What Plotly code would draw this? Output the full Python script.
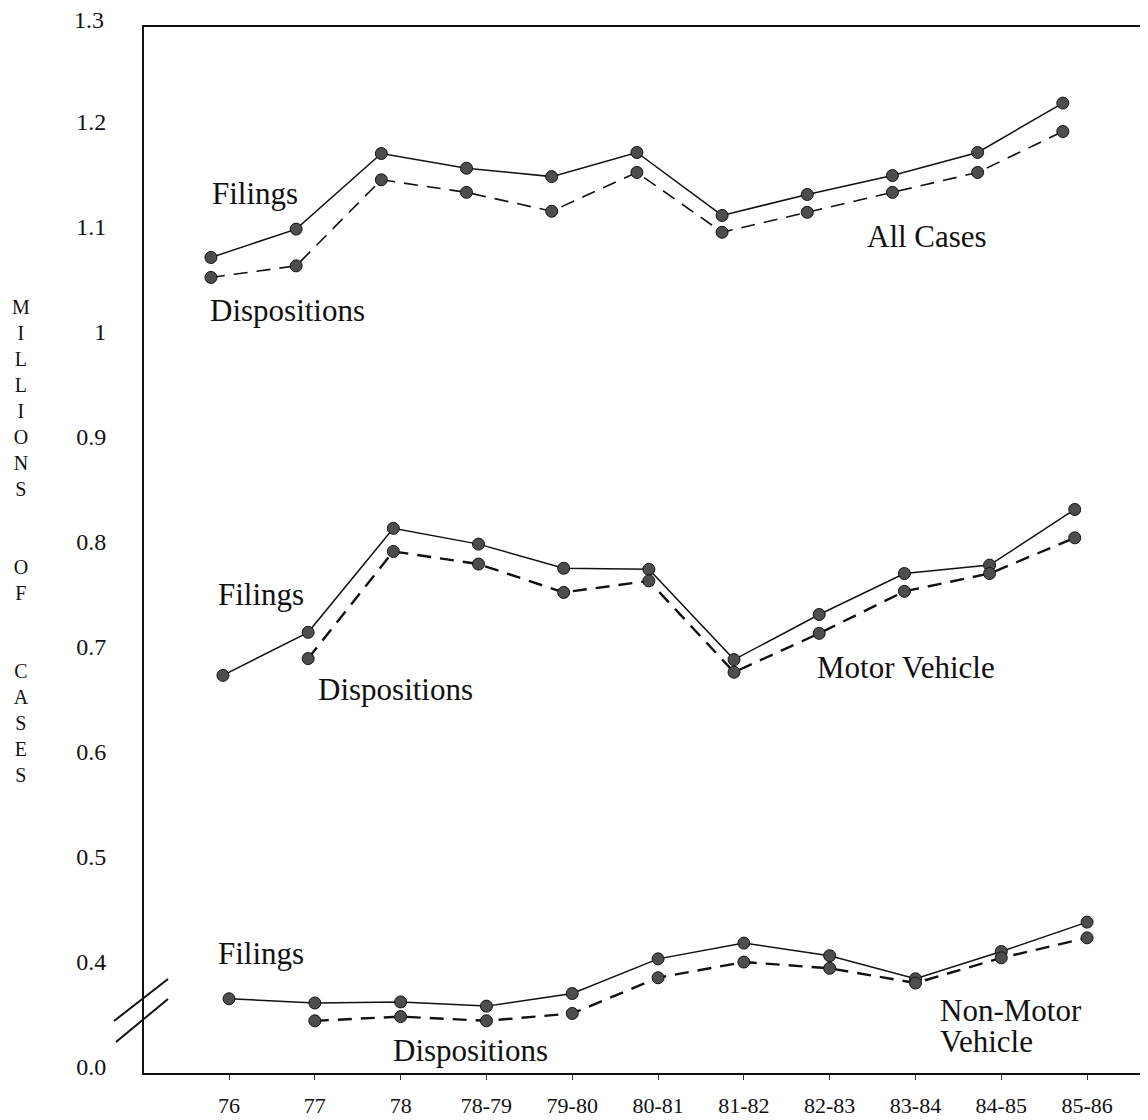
import plotly.graph_objects as go

# ---------------- data ----------------
years = ["76", "77", "78", "78-79", "79-80", "80-81", "81-82", "82-83", "83-84", "84-85", "85-86"]

all_filings = [1.071, 1.098, 1.170, 1.156, 1.148, 1.171, 1.111, 1.131, 1.149, 1.171, 1.218]
all_dispositions = [1.052, 1.063, 1.145, 1.133, 1.115, 1.152, 1.095, 1.114, 1.133, 1.152, 1.191]

motor_filings = [0.673, 0.714, 0.813, 0.798, 0.775, 0.774, 0.688, 0.731, 0.770, 0.778, 0.831]
motor_dispositions = [None, 0.689, 0.791, 0.779, 0.752, 0.763, 0.676, 0.713, 0.753, 0.770, 0.804]

nonmotor_filings = [0.365, 0.361, 0.362, 0.358, 0.370, 0.403, 0.418, 0.406, 0.384, 0.410, 0.438]
nonmotor_dispositions = [None, 0.344, 0.348, 0.344, 0.351, 0.385, 0.400, 0.394, 0.380, 0.404, 0.423]

ytick_vals = [0.3, 0.4, 0.5, 0.6, 0.7, 0.8, 0.9, 1.0, 1.1, 1.2]
ytick_text = ["0.0", "0.4", "0.5", "0.6", "0.7", "0.8", "0.9", "1", "1.1", "1.2"]
ytop_label = "1.3"

FONT = "Liberation Serif"
OFF = 8                      # page body margin
W, H = 1148 - OFF, 1120 - OFF
L, R, T, B = 144 - OFF, 0, 27 - OFF, 47

fig = go.Figure()

marker = dict(size=12, color="#4d4d4d", line=dict(color="#111111", width=1))


def add_pair(filings, disps, xa, dash_w):
    fig.add_trace(go.Scatter(x=years, y=filings, mode="lines+markers", xaxis=xa, yaxis="y",
                             line=dict(color="#111111", width=1.5), marker=marker,
                             connectgaps=False, showlegend=False, cliponaxis=False))
    fig.add_trace(go.Scatter(x=years, y=disps, mode="lines+markers", xaxis=xa, yaxis="y",
                             line=dict(color="#111111", width=dash_w, dash="14px,9px"), marker=marker,
                             connectgaps=False, showlegend=False, cliponaxis=False))


add_pair(all_filings, all_dispositions, "x2", 1.6)
add_pair(motor_filings, motor_dispositions, "x3", 2.4)
add_pair(nonmotor_filings, nonmotor_dispositions, "x", 2.4)

# page-pixel helpers
def px2paper(px):
    return (px - OFF - L) / (W - L - R)


def ppy(py):
    return (H - B - (py - OFF)) / (H - T - B)


labels = [
    ("Filings", 210, 193),
    ("Dispositions", 208, 310),
    ("All Cases", 865, 236),
    ("Filings", 216, 594),
    ("Dispositions", 316, 690),
    ("Motor Vehicle", 815, 667),
    ("Filings", 216, 953),
    ("Dispositions", 391, 1050),
    ("Non-Motor", 938, 1010),
    ("Vehicle", 938, 1041),
]
for txt, px, py in labels:
    fig.add_annotation(text=txt, xref="paper", yref="paper", x=px2paper(px), y=ppy(py),
                       xanchor="left", yanchor="middle", showarrow=False,
                       font=dict(family=FONT, size=31, color="#111111"))

# top tick label above the frame
fig.add_annotation(text=ytop_label, xref="paper", yref="paper", x=px2paper(106), y=ppy(20),
                   xanchor="right", yanchor="middle", showarrow=False,
                   font=dict(family=FONT, size=24, color="#111111"))

# vertical axis title (stacked letters)
title_lines = ["M", "I", "L", "L", "I", "O", "N", "S", "", "", "O", "F", "", "", "C", "A", "S", "E", "S"]
fig.add_annotation(text="<br>".join(l if l else "&nbsp;" for l in title_lines),
                   xref="paper", yref="paper", x=px2paper(21), y=ppy(541),
                   xanchor="center", yanchor="middle", showarrow=False, align="center",
                   font=dict(family=FONT, size=20, color="#111111"))

# axis break marks
for (x0, y0, x1, y1) in [(114, 1021, 168, 979), (116, 1042, 168, 999)]:
    fig.add_shape(type="line", xref="paper", yref="paper",
                  x0=px2paper(x0), y0=ppy(y0), x1=px2paper(x1), y1=ppy(y1),
                  line=dict(color="#111111", width=2))

xcommon = dict(type="category", categoryorder="array", categoryarray=years)

fig.update_layout(
    width=W, height=H,
    margin=dict(l=L, r=R, t=T, b=B),
    paper_bgcolor="white", plot_bgcolor="white",
    font=dict(family=FONT, color="#111111"),
    xaxis=dict(**xcommon, range=[-0.991, 10.71], showgrid=False, zeroline=False,
               showline=True, linecolor="#111111", linewidth=2, mirror=True,
               ticks="outside", ticklen=5, tickcolor="#333333", tickwidth=1,
               tickfont=dict(family=FONT, size=22, color="#111111"), ticklabelstandoff=7),
    xaxis2=dict(**xcommon, range=[-0.786, 11.0], overlaying="x", anchor="y", visible=False),
    xaxis3=dict(**xcommon, range=[-0.927, 10.86], overlaying="x", anchor="y", visible=False),
    yaxis=dict(range=[0.2943, 1.2905], tickvals=ytick_vals, ticktext=ytick_text,
               showgrid=False, zeroline=False, showline=True, linecolor="#111111", linewidth=2,
               mirror=False, ticks="", tickfont=dict(family=FONT, size=24, color="#111111"),
               ticklabelstandoff=31),
)

fig.write_html("out.html")
